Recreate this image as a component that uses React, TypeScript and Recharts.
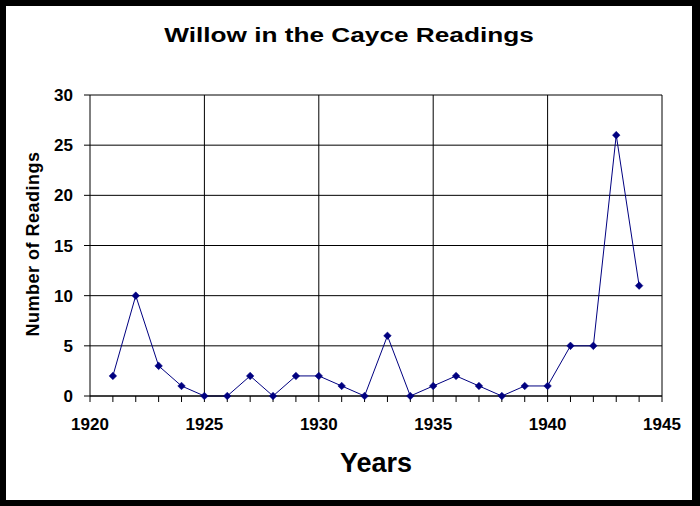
import React from "react";
import { LineChart, Line, XAxis, YAxis, CartesianGrid, ReferenceLine } from "recharts";

const years = [1921, 1922, 1923, 1924, 1925, 1926, 1927, 1928, 1929, 1930, 1931, 1932, 1933, 1934, 1935, 1936, 1937, 1938, 1939, 1940, 1941, 1942, 1943, 1944];
const readings = [2, 10, 3, 1, 0, 0, 2, 0, 2, 2, 1, 0, 6, 0, 1, 2, 1, 0, 1, 1, 5, 5, 26, 11];
const yearTicks = [1920, 1921, 1922, 1923, 1924, 1925, 1926, 1927, 1928, 1929, 1930, 1931, 1932, 1933, 1934, 1935, 1936, 1937, 1938, 1939, 1940, 1941, 1942, 1943, 1944, 1945];
const majorYears = [1925, 1930, 1935, 1940, 1945];
const countTicks = [0, 5, 10, 15, 20, 25, 30];

const NAVY = "#000080";
const FONT = "'Liberation Sans', Arial, sans-serif";

const Diamond = (props: any) => {
  const { cx, cy, index } = props;
  if (cx == null || cy == null) return <g key={`d-${index}`} />;
  const r = 3.8;
  return (
    <polygon
      key={`d-${index}`}
      points={`${cx},${cy - r} ${cx + r},${cy} ${cx},${cy + r} ${cx - r},${cy}`}
      fill={NAVY}
      stroke={NAVY}
      strokeWidth={0.5}
    />
  );
};

export default function App() {
  const data = years.map((y, i) => ({ year: y, count: readings[i] }));

  return (
    <div style={{ position: "fixed", left: 0, top: 0, width: 700, height: 506, background: "#000" }}>
      <div style={{ position: "absolute", left: 6, top: 6, width: 686, height: 494, background: "#fff" }} />
      <div
        style={{
          position: "absolute",
          left: 349,
          top: 35,
          transform: "translate(-50%, -50%) scaleX(1.31)",
          whiteSpace: "nowrap",
          fontFamily: FONT,
          fontWeight: "bold",
          fontSize: 20,
          color: "#000",
        }}
      >
        Willow in the Cayce Readings
      </div>
      <div style={{ position: "absolute", left: 0, top: 0 }}>
        <LineChart
          width={700}
          height={506}
          data={data}
          margin={{ top: 95, right: 38, bottom: 70, left: 0 }}
        >
          <CartesianGrid horizontal vertical={false} stroke="#000" strokeWidth={1} />
          {majorYears.map((y) => (
            <ReferenceLine key={y} x={y} stroke="#000" strokeWidth={1} />
          ))}
          <XAxis
            dataKey="year"
            type="number"
            domain={[1920, 1945]}
            ticks={yearTicks}
            interval={0}
            tickFormatter={(v: number) => (v % 5 === 0 ? String(v) : "")}
            tickSize={6}
            tickMargin={16}
            height={40}
            stroke="#000"
            tick={{ fill: "#000", fontFamily: FONT, fontWeight: "bold", fontSize: 17 }}
          />
          <YAxis
            type="number"
            domain={[0, 30]}
            ticks={countTicks}
            interval={0}
            width={90}
            tickSize={6}
            tickMargin={11}
            stroke="#000"
            tick={{ fill: "#000", fontFamily: FONT, fontWeight: "bold", fontSize: 17 }}
          />
          <Line
            type="linear"
            dataKey="count"
            stroke={NAVY}
            strokeWidth={1}
            dot={Diamond}
            activeDot={false}
            isAnimationActive={false}
          />
        </LineChart>
      </div>
      <div
        style={{
          position: "absolute",
          left: 33,
          top: 244,
          transform: "translate(-50%, -50%) rotate(-90deg)",
          whiteSpace: "nowrap",
          fontFamily: FONT,
          fontWeight: "bold",
          fontSize: 18,
          letterSpacing: 0.5,
          color: "#000",
        }}
      >
        Number of Readings
      </div>
      <div
        style={{
          position: "absolute",
          left: 376,
          top: 463,
          transform: "translate(-50%, -50%)",
          whiteSpace: "nowrap",
          fontFamily: FONT,
          fontWeight: "bold",
          fontSize: 27,
          color: "#000",
        }}
      >
        Years
      </div>
    </div>
  );
}
